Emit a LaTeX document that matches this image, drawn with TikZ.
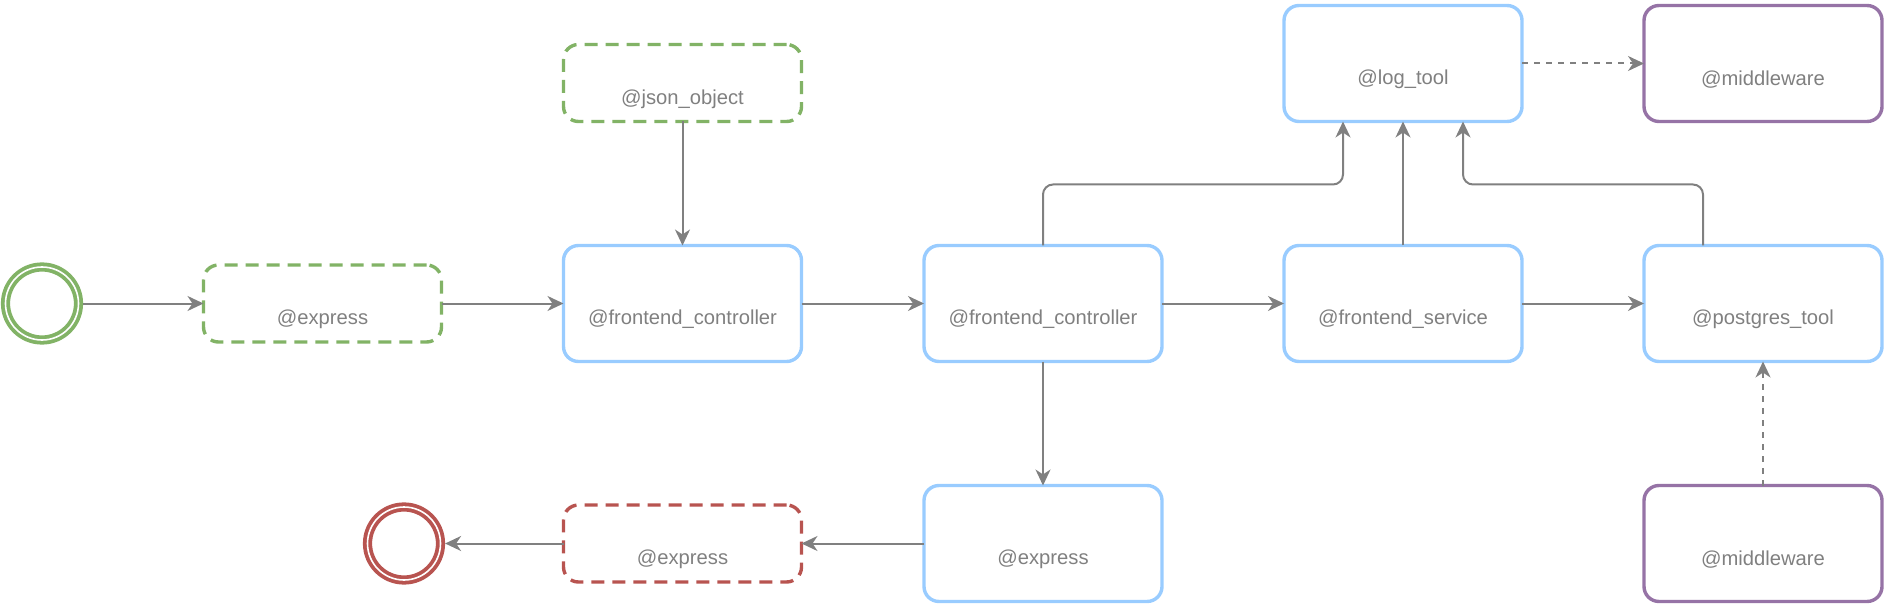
\documentclass[tikz,border=0pt]{standalone}
\usepackage{fontspec}
\setmainfont{Liberation Sans}
\usetikzlibrary{arrows.meta, positioning, calc}
\definecolor{svcblue}{HTML}{99CCFF}
\definecolor{okgreen}{HTML}{82B366}
\definecolor{errred}{HTML}{B85450}
\definecolor{mwpurple}{HTML}{9673A6}
\definecolor{wiregray}{HTML}{808080}

\begin{document}
\begin{tikzpicture}[
  x=0.5pt, y=-0.5pt,
  box/.style={rectangle, rounded corners=7.5pt, line width=1.7pt, fill=white,
    minimum width=119pt, minimum height=58pt, inner sep=0pt, outer sep=0pt},
  svc/.style={box, draw=svcblue},
  mw/.style={box, draw=mwpurple},
  inbox/.style={box, draw=okgreen, dash pattern=on 6.5pt off 4pt, minimum height=38.5pt},
  outbox/.style={box, draw=errred, dash pattern=on 6.5pt off 4pt, minimum height=38.5pt},
  event/.style={circle, line width=1.9pt, double=white, double distance=0.8pt,
    minimum size=36.5pt, inner sep=0pt, outer sep=2.3pt},
  txt/.style={font=\fontsize{10.1}{12}\selectfont, text=wiregray, yshift=-8pt},
  conn/.style={-{Stealth[length=8pt,width=7.5pt,inset=2.5pt]}, line width=1pt,
    wiregray, rounded corners=5pt},
  dconn/.style={conn, dash pattern=on 3pt off 3pt}
]
  \useasboundingbox (0,0) rectangle (1884,604);

  %% main row
  \node[event, draw=okgreen] (start) at (42,303.5) {};
  \node[inbox,  label={[txt]center:@express}]              (exin)  at (322.5,303.5) {};
  \node[svc,    label={[txt]center:@frontend\_controller}] (ctrla) at (682.5,303.5) {};
  \node[svc,    label={[txt]center:@frontend\_controller}] (ctrlb) at (1043,303.5) {};
  \node[svc,    label={[txt]center:@frontend\_service}]    (serv)  at (1403,303.5) {};
  \node[svc,    label={[txt]center:@postgres\_tool}]       (pg)    at (1763,303.5) {};

  %% top row
  \node[inbox,  label={[txt]center:@json\_object}]         (json)  at (682.5,83) {};
  \node[svc,    label={[txt]center:@log\_tool}]            (log)   at (1403,63.5) {};
  \node[mw,     label={[txt]center:@middleware}]           (mwtop) at (1763,63.5) {};

  %% bottom row
  \node[event, draw=errred] (stop) at (404,543.5) {};
  \node[outbox, label={[txt]center:@express}]              (exout) at (682.5,543.5) {};
  \node[svc,    label={[txt]center:@express}]              (exres) at (1043,543.5) {};
  \node[mw,     label={[txt]center:@middleware}]           (mwbot) at (1763,543.5) {};

  \draw[conn] (start) -- (exin);
  \draw[conn] (exin)  -- (ctrla);
  \draw[conn] (json)  -- (ctrla);
  \draw[conn] (ctrla) -- (ctrlb);
  \draw[conn] (ctrlb) -- (serv);
  \draw[conn] (serv)  -- (pg);
  \draw[conn] (ctrlb) -- (exres);
  \draw[conn] (exres) -- (exout);
  \draw[conn] (exout) -- (stop);

  %% logging
  \draw[conn] (ctrlb.north) -- ++(0,-61) -| ([xshift=-30pt]log.south);
  \draw[conn] (serv) -- (log);
  \draw[conn] ([xshift=-30pt]pg.north) -- ++(0,-61) -| ([xshift=30pt]log.south);

  \draw[dconn] (log)   -- (mwtop);
  \draw[dconn] (mwbot) -- (pg);
\end{tikzpicture}
\end{document}
